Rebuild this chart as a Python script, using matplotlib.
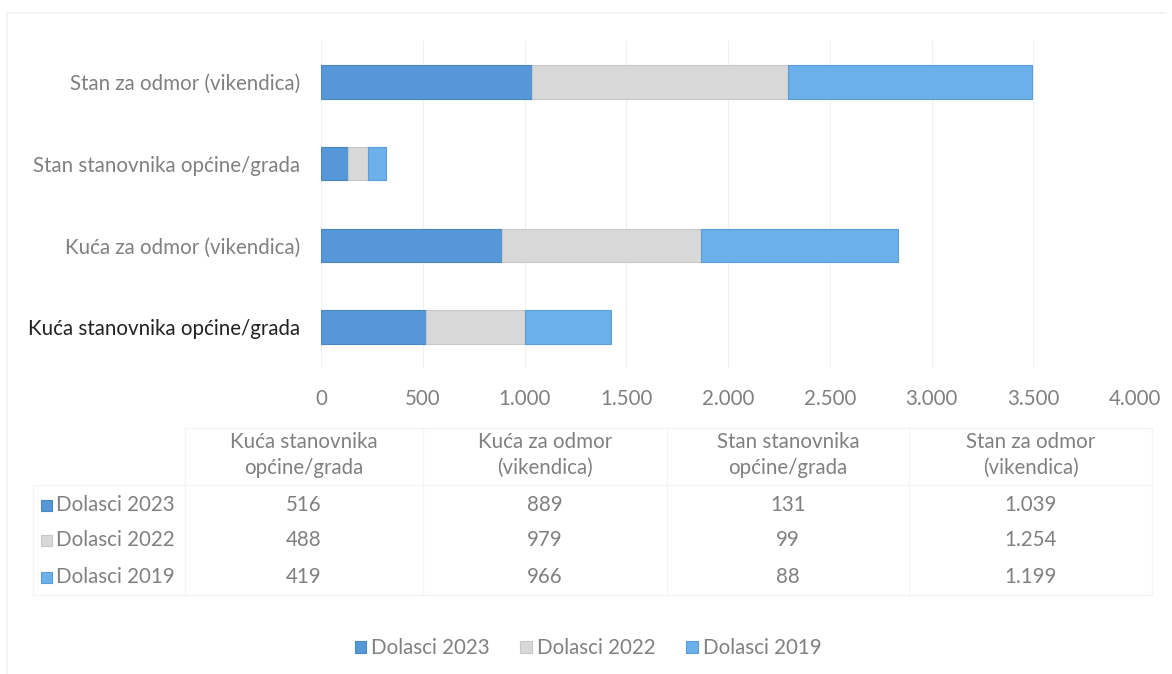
import matplotlib
matplotlib.use("Agg")
import matplotlib.pyplot as plt
from matplotlib.patches import Rectangle
from matplotlib.ticker import FuncFormatter

plt.rcParams['font.family'] = ['Lato', 'DejaVu Sans']

categories = ["Kuća stanovnika općine/grada", "Kuća za odmor (vikendica)",
              "Stan stanovnika općine/grada", "Stan za odmor (vikendica)"]
table_headers = ["Kuća stanovnika\nopćine/grada", "Kuća za odmor\n(vikendica)",
                 "Stan stanovnika\nopćine/grada", "Stan za odmor\n(vikendica)"]
series_names = ["Dolasci 2023", "Dolasci 2022", "Dolasci 2019"]
dolasci_2023 = [516, 889, 131, 1039]
dolasci_2022 = [488, 979, 99, 1254]
dolasci_2019 = [419, 966, 88, 1199]
x_ticks = [0, 500, 1000, 1500, 2000, 2500, 3000, 3500, 4000]

colors = ["#5597d8", "#d8d8d8", "#6cb0ea"]
edges = ["#4a86c0", "#c8c8c8", "#5a9cd6"]
grey = "#808080"
FS = 14.8

W, H = 1172, 674
fig = plt.figure(figsize=(W / 100, H / 100), dpi=100)
fig.patch.set_facecolor("white")

def fx(px):
    return px / W

def fy(py):
    return 1 - py / H

ax = fig.add_axes([fx(321), fy(368), fx(1135) - fx(321), fy(41) - fy(368)])
series = [dolasci_2023, dolasci_2022, dolasci_2019]
left = [0] * len(categories)
ypos = list(range(len(categories)))
for vals, c, e in zip(series, colors, edges):
    ax.barh(ypos, vals, left=left, height=0.41, color=c, edgecolor=e, linewidth=0.8, zorder=3)
    left = [l + v for l, v in zip(left, vals)]

ax.set_xlim(x_ticks[0], x_ticks[-1])
ax.set_ylim(-0.5, len(categories) - 0.5)
ax.set_xticks(x_ticks)
ax.xaxis.set_major_formatter(FuncFormatter(lambda v, p: f"{int(v):,}".replace(",", ".")))
ax.set_yticks(ypos)
ax.set_yticklabels(categories)
ax.tick_params(axis="x", length=0, pad=15, labelsize=FS, labelcolor=grey)
ax.tick_params(axis="y", length=0, pad=15, labelsize=FS, labelcolor=grey)
ax.get_yticklabels()[0].set_color("#222222")
ax.grid(axis="x", color="#f0f0f0", linewidth=0.8, zorder=0)
for s in ax.spines.values():
    s.set_visible(False)

# data table
col_bounds = [185, 423, 667, 909, 1152]
row_y = [505, 540, 577]
header_y = 455
for i, h in enumerate(table_headers):
    cx = (col_bounds[i] + col_bounds[i + 1]) / 2
    fig.text(fx(cx), fy(header_y), h, ha="center", va="center", fontsize=FS,
             color=grey, linespacing=1.35)
    for r, vals in enumerate(series):
        txt = f"{vals[i]:,}".replace(",", ".")
        fig.text(fx(cx), fy(row_y[r]), txt, ha="center", va="center", fontsize=FS, color=grey)

for r, (name, c, e) in enumerate(zip(series_names, colors, edges)):
    fig.patches.append(Rectangle((fx(41), fy(row_y[r]) - 5.5 / H), 11 / W, 11 / H,
                                 transform=fig.transFigure, facecolor=c, edgecolor=e, linewidth=0.8))
    fig.text(fx(56), fy(row_y[r]), name, ha="left", va="center", fontsize=FS, color=grey)

line_c = "#f5f5f5"
for x in col_bounds:
    fig.add_artist(plt.Line2D([fx(x), fx(x)], [fy(428), fy(595)], color=line_c, lw=1))
fig.add_artist(plt.Line2D([fx(33), fx(33)], [fy(485), fy(595)], color=line_c, lw=1))
fig.add_artist(plt.Line2D([fx(185), fx(1152)], [fy(428), fy(428)], color=line_c, lw=1))
fig.add_artist(plt.Line2D([fx(33), fx(1152)], [fy(485), fy(485)], color=line_c, lw=1))
fig.add_artist(plt.Line2D([fx(33), fx(1152)], [fy(595), fy(595)], color=line_c, lw=1))

# outer border
fig.add_artist(plt.Line2D([fx(7), fx(1165)], [fy(13), fy(13)], color="#f2f2f2", lw=1.2))
fig.add_artist(plt.Line2D([fx(7), fx(7)], [fy(13), fy(674)], color="#f2f2f2", lw=1.2))

# legend
handles = [Rectangle((0, 0), 1, 1, facecolor=c, edgecolor=e, linewidth=0.8)
           for c, e in zip(colors, edges)]
fig.legend(handles, series_names, loc="center", bbox_to_anchor=(fx(588), fy(648)),
           ncol=3, frameon=False, fontsize=FS, labelcolor=grey, handlelength=0.55,
           handleheight=0.55, handletextpad=0.25, columnspacing=1.5)

fig.savefig("out.png", dpi=100, facecolor="white")
